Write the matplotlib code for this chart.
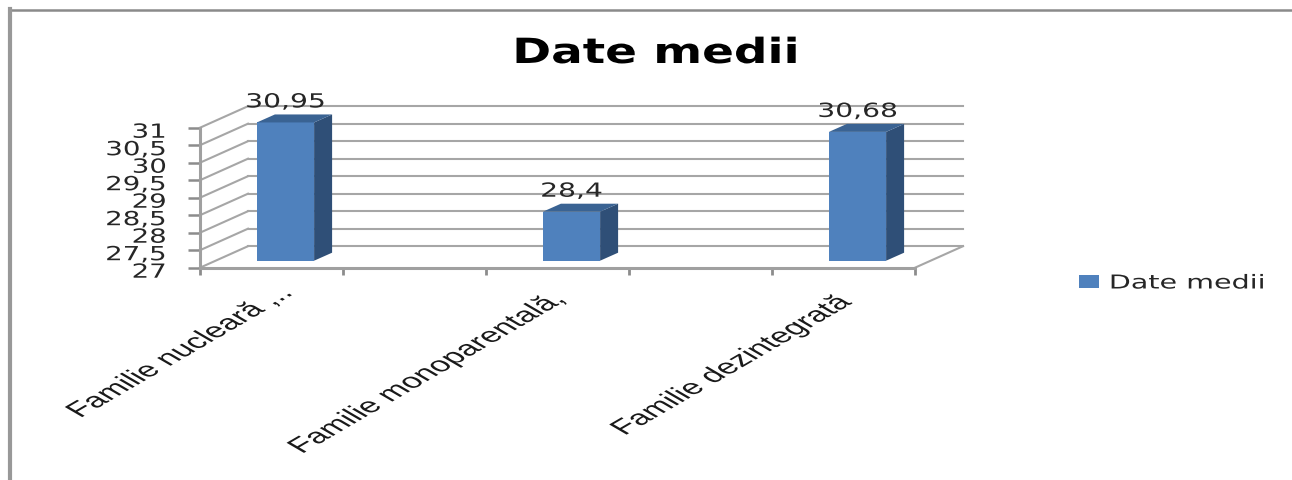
import numpy as np
import matplotlib
matplotlib.use("Agg")
import matplotlib.pyplot as plt
from matplotlib.lines import Line2D
from matplotlib.patches import Polygon
from matplotlib.patheffects import AbstractPathEffect
from matplotlib.transforms import Affine2D

categories = ["Familie nucleară ,..", "Familie monoparentală,", "Familie dezintegrată"]
values = [30.95, 28.4, 30.68]
value_labels = ["30,95", "28,4", "30,68"]
y_ticks = [27, 27.5, 28, 28.5, 29, 29.5, 30, 30.5, 31]
y_tick_labels = ["27", "27,5", "28", "28,5", "29", "29,5", "30", "30,5", "31"]
series_name = "Date medii"

W, H = 1292, 481
GRID = "#a6a6a6"
AXIS = "#a0a0a0"
TEXT = "#262626"
FRONT = "#4f81bd"
SIDE = "#2f4f77"
TOP = "#3a6393"


# the source picture is stretched sideways, so the text gets stretched too
class Stretch(AbstractPathEffect):
    def __init__(self, sx, x0, dy=0):
        self.sx = sx
        self.x0 = x0
        self.dy = dy

    def draw_path(self, renderer, gc, tpath, affine, rgbFace=None):
        wide = Affine2D().translate(-self.x0, 0).scale(self.sx, 1).translate(self.x0, self.dy)
        renderer.draw_path(gc, tpath, affine + wide, rgbFace)


fig = plt.figure(figsize=(W / 100, H / 100), dpi=100)
ax = fig.add_axes([200 / W, (H - 268.7) / H, 715 / W, 140 / H])
ax.set_xlim(-0.25, 2.25)
ax.set_ylim(27, 31)

x = np.arange(len(categories))
x_edges = np.arange(-0.25, 2.26, 0.5)

# depth of the fake 3d box, in data units
wall_dx = 48 / 286
wall_dy = 21.5 / 35
bar_dx = 18 / 286
bar_dy = 8 / 35
bar_width = 0.2

# back wall and left wall
for v in y_ticks:
    ax.plot([-0.25 + wall_dx, 2.25 + wall_dx], [v + wall_dy, v + wall_dy], color=GRID, lw=1.5, clip_on=False, zorder=1)
    ax.plot([-0.25, -0.25 + wall_dx], [v, v + wall_dy], color=GRID, lw=1.5, clip_on=False, zorder=1)
ax.plot([2.25, 2.25 + wall_dx], [27, 27 + wall_dy], color=GRID, lw=1.5, clip_on=False, zorder=1)

# bars sit in the middle of the floor
bar_shift = ax.transData + Affine2D().translate(14, 7)
bars = ax.bar(x, np.array(values) - 27, bottom=27, width=bar_width, color=FRONT, label=series_name,
              transform=bar_shift, clip_on=False, zorder=3)
for xi, val in zip(x, values):
    x0 = xi - bar_width / 2
    x1 = xi + bar_width / 2
    ax.add_patch(Polygon([(x1, 27), (x1 + bar_dx, 27 + bar_dy), (x1 + bar_dx, val + bar_dy), (x1, val)],
                         facecolor=SIDE, edgecolor="none", transform=bar_shift, clip_on=False, zorder=3))
    ax.add_patch(Polygon([(x0, val), (x0 + bar_dx, val + bar_dy), (x1 + bar_dx, val + bar_dy), (x1, val)],
                         facecolor=TOP, edgecolor="none", transform=bar_shift, clip_on=False, zorder=3))

for spine in ["top", "right"]:
    ax.spines[spine].set_visible(False)
for spine in ["left", "bottom"]:
    ax.spines[spine].set_color(AXIS)
    ax.spines[spine].set_linewidth(2.2)
    ax.spines[spine].set_zorder(4)

ax.set_xticks(x_edges)
ax.set_xticklabels([])
ax.tick_params(axis="x", length=5, width=2, color="#8c8c8c")
ax.set_yticks(y_ticks)
ax.set_yticklabels(y_tick_labels, fontsize=14, color=TEXT, family="DejaVu Sans")
ax.tick_params(axis="y", length=8.6, width=1.8, color="#8c8c8c", pad=15.5)
for lab in ax.get_yticklabels():
    lab.set_path_effects([Stretch(1.42, 166, dy=-2.5)])

# value labels
for xi, val, txt in zip(x, values, value_labels):
    px = ax.transData.transform((xi, val))[0] + 14
    t = ax.annotate(txt, (xi, val), xytext=(14, 7 + 15), textcoords="offset pixels", ha="center", va="baseline",
                    fontsize=14, color=TEXT, family="DejaVu Sans", annotation_clip=False, zorder=5)
    t.set_path_effects([Stretch(1.45, px)])

# category labels, drawn at 45 degrees before the stretch
label_dx = [23, 10, 10]
label_dy = [-26, -32, -35]
for xi, txt, dx, dy in zip(x, categories, label_dx, label_dy):
    px = ax.transData.transform((xi, 27))[0] + dx
    t = ax.annotate(txt, (xi, 27), xytext=(dx, dy), textcoords="offset pixels", ha="right", va="baseline",
                    rotation=45, rotation_mode="anchor", fontsize=15, color="#1a1a1a", family="Liberation Sans",
                    annotation_clip=False)
    t.set_path_effects([Stretch(1.72, px)])

title = fig.text(656 / W, (H - 64) / H, series_name, ha="center", va="baseline", fontsize=25, fontweight="bold",
                 color="black", family="DejaVu Sans")
title.set_path_effects([Stretch(1.35, 656)])

leg = fig.legend(handles=[bars], labels=[series_name], loc="center left", bbox_to_anchor=(1079 / W, 1 - 284 / H),
                 frameon=False, handlelength=1.04, handleheight=0.63, handletextpad=0.52,
                 borderpad=0, borderaxespad=0, labelcolor=TEXT, prop={"family": "DejaVu Sans", "size": 13.8})
for t in leg.get_texts():
    t.set_path_effects([Stretch(1.49, 1109)])

# outer frame, only top and left are in the crop
fig.add_artist(Line2D([9 / W, 1], [1 - 11 / H, 1 - 11 / H], color="#8a8a8a", lw=1.8))
fig.add_artist(Line2D([10 / W, 10 / W], [0, 1 - 10 / H], color="#989898", lw=3))

fig.savefig("out.png", dpi=100)
